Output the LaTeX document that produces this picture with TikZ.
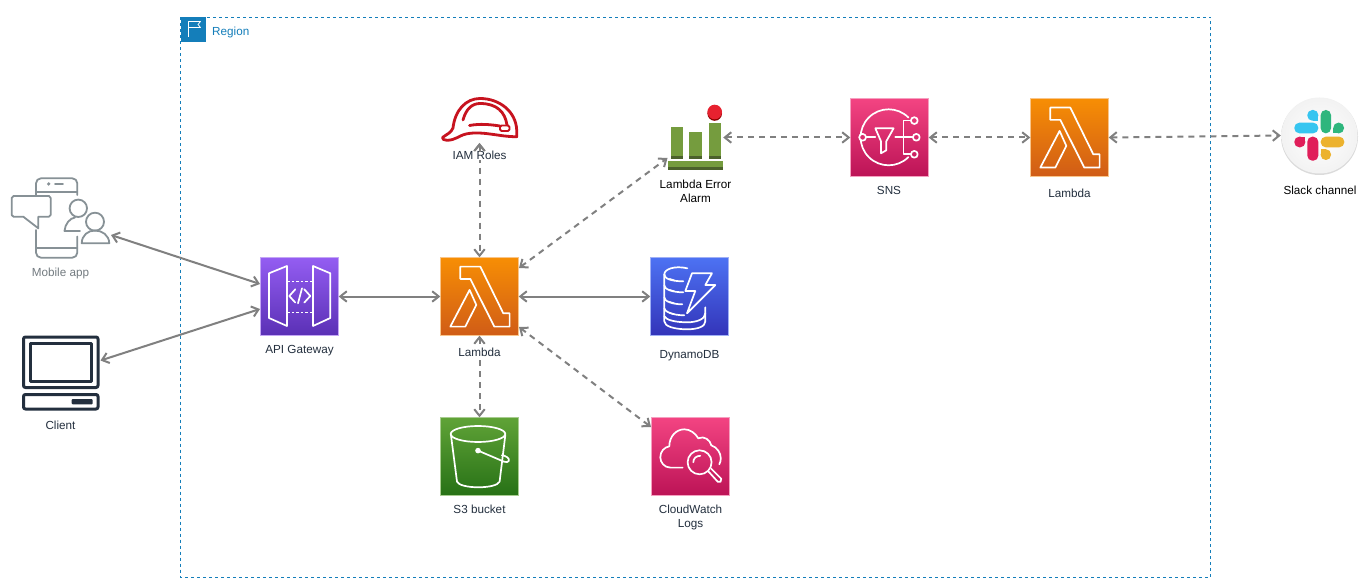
\documentclass[tikz,border=0pt]{standalone}
\usepackage{fontspec}
\setmainfont{Liberation Sans}
\usetikzlibrary{arrows.meta,calc}
\definecolor{inkdark}{HTML}{232F3E}
\definecolor{regionblue}{HTML}{147EBA}
\definecolor{wiregray}{HTML}{808080}
\definecolor{mobilegray}{HTML}{879196}
\definecolor{hatred}{HTML}{C7131F}
\definecolor{barlight}{HTML}{759C3E}
\definecolor{bardark}{HTML}{4B612C}
\definecolor{pinkmid}{HTML}{D92B6C}
\definecolor{alarmred}{HTML}{E7212F}
\definecolor{edgeorange}{HTML}{F9C58A}
\definecolor{edgepurple}{HTML}{C4A6F5}
\definecolor{edgeblue}{HTML}{A0B0F5}
\definecolor{edgegreen}{HTML}{A8CC90}
\definecolor{edgepink}{HTML}{F5A0C0}
\tikzset{
  x=1pt,y=-1pt,
  awsbox/.style={rectangle,inner sep=0pt,minimum size=78pt},
  orangebox/.style={awsbox,top color={rgb,255:red,247;green,142;blue,4},bottom color={rgb,255:red,208;green,92;blue,23}},
  purplebox/.style={awsbox,top color={rgb,255:red,148;green,93;blue,242},bottom color={rgb,255:red,90;green,48;blue,181}},
  bluebox/.style={awsbox,top color={rgb,255:red,77;green,114;blue,243},bottom color={rgb,255:red,51;green,52;blue,185}},
  greenbox/.style={awsbox,top color={rgb,255:red,96;green,163;blue,55},bottom color={rgb,255:red,39;green,113;blue,22}},
  pinkbox/.style={awsbox,top color={rgb,255:red,243;green,68;blue,130},bottom color={rgb,255:red,188;green,19;blue,86}},
  ghost/.style={rectangle,inner sep=0pt},
  glyph/.style={draw=white,line width=1.7pt,line join=round,line cap=round},
  lbl/.style={font=\fontsize{11.7}{14}\selectfont,text=inkdark,align=center,inner sep=0.5pt},
  lblfill/.style={lbl,fill=white},
  wire/.style={draw=wiregray,line width=2pt,{Straight Barb[length=6.5pt,width=10.5pt]}-{Straight Barb[length=6.5pt,width=10.5pt]}},
  dashwire/.style={wire,dash pattern=on 6pt off 5pt},
  lambdaglyph/.pic={
    \draw[glyph] (20,9.3) -- (40,9.3) -- (63,56) -- (69.3,56) -- (69.3,69.3) -- (54,69.3) -- (30,21.6) -- (20,21.6) -- cycle;
    \draw[glyph] (10,69.3) -- (29.3,32.6) -- (36,47.6) -- (25,69.3) -- cycle;
  },
  apiglyph/.pic={
    \draw[glyph] (8.7,16) -- (26.7,8.7) -- (26.7,68.7) -- (8.7,60.7) -- cycle;
    \draw[glyph] (52.7,8.7) -- (70,16) -- (70,60.7) -- (52.7,68.7) -- cycle;
    \draw[white,line width=1.6pt,dash pattern=on 2.5pt off 2pt] (27,24.3) -- (52.7,24.3);
    \draw[white,line width=1.6pt,dash pattern=on 2.5pt off 2pt] (27,55.3) -- (52.7,55.3);
    \draw[glyph] (35,32) -- (29,38.7) -- (35,45.3);
    \draw[glyph] (44,32) -- (50,38.7) -- (44,45.3);
    \draw[glyph] (41.7,31) -- (37.7,46);
  },
  dynamoglyph/.pic={
    \draw[glyph] (37,11) .. controls (24,8) and (14,12) .. (14,17) .. controls (14,21) and (20,24) .. (33,24);
    \draw[glyph] (14,17) -- (14,28) .. controls (14,32) and (22,35) .. (33,35);
    \draw[glyph] (14,28) -- (14,40) .. controls (14,44) and (22,47) .. (32,47);
    \draw[glyph] (14,40) -- (14,51) .. controls (14,54) and (22,58) .. (34,58);
    \draw[glyph] (14,51) -- (14,64) .. controls (14,69) and (24,72) .. (37,72) .. controls (48,72) and (55,69) .. (55,64) -- (55,50);
    \draw[glyph] (14,59) .. controls (16,63) and (26,65) .. (37,65) .. controls (46,65) and (55,62) .. (55,56);
    \draw[white,line width=1.5pt] (19,21.5) -- (24,23) (19,32.5) -- (24,34) (19,44.5) -- (24,46) (19,55.5) -- (24,57);
    \draw[glyph] (41.7,16) -- (61.7,16) -- (55,27.7) -- (65,27.7) -- (36.7,56) -- (45,33.7) -- (35,33.7) -- cycle;
  },
  bucketglyph/.pic={
    \draw[glyph] (37.7,16.7) ellipse[x radius=27.3,y radius=8];
    \draw[glyph] (10.7,18) -- (16.7,64.3) .. controls (18,68) and (28,70) .. (38,70) .. controls (48,70) and (58,68) .. (59.3,64.3) -- (65,18);
    \fill[white] (37.7,33.3) circle[radius=2.8];
    \draw[glyph] (37.7,33.3) -- (64,44.5) .. controls (69,46) and (70,42) .. (67,40) .. controls (65,38.5) and (63,38) .. (61.5,38);
  },
  cloudglyph/.pic={
    \draw[glyph] (31.3,50.3) -- (19,50.3) .. controls (13,50.3) and (9,45) .. (9,40) .. controls (9,34) and (13,30) .. (18,29) .. controls (18,19) and (25,12) .. (33,12) .. controls (39,12) and (44,16) .. (47,21) .. controls (53,18) and (59,23) .. (60,28) .. controls (66,30) and (69.5,36) .. (69.5,41) .. controls (69.5,43) and (69,45) .. (68,47);
    \draw[glyph] (48.3,45) circle[radius=12];
    \draw[glyph] (42,45) .. controls (42,41) and (45,38.5) .. (49,38.5);
    \draw[glyph] (57,54) -- (66.5,64.5) .. controls (68,66) and (71,64) .. (70,61.5) -- (60,51.5);
  },
  snsglyph/.pic={
    \draw[glyph] (38.3,39) ++(45:28) arc[start angle=45,end angle=315,radius=28];
    \draw[glyph] (15.8,39) -- (25,39);
    \draw[glyph,fill=pinkmid] (12.3,39) circle[radius=3.4];
    \draw[glyph] (25,30) -- (43.3,30) -- (36,43) -- (36,52) -- (30.7,55) -- (30.7,43) -- cycle;
    \draw[glyph] (45,39) -- (62.5,39);
    \draw[glyph] (60.5,22.3) -- (53.3,22.3) -- (53.3,56) -- (60.5,56);
    \draw[glyph] (64,22.3) circle[radius=3.4];
    \draw[glyph] (66,39) circle[radius=3.4];
    \draw[glyph] (64,56) circle[radius=3.4];
  }
}
\begin{document}
\begin{tikzpicture}
\useasboundingbox (0,0) rectangle (1371,588);
\fill[white] (0,0) rectangle (1371,588);

% region
\draw[regionblue,line width=1pt,dash pattern=on 3pt off 3pt] (180.5,17.5) rectangle (1210.5,577);
\node[ghost,fill=regionblue,minimum width=25pt,minimum height=25pt] (regionflag) at (193,29.5) {};
\draw[white,line width=0.8pt,line join=round] (188.5,37) -- (188.5,21.5) -- (200.5,21.5) -- (198,24.5) -- (200.5,27.5) -- (188.5,27.5);
\node[lbl,text=regionblue,anchor=base west] (regionlabel) at (211.5,35.5) {Region};

% nodes
\node[purplebox] (api) at (299.5,296.5) {};
\node[orangebox] (lam) at (479.5,296.5) {};
\node[bluebox] (dyn) at (689.5,296.5) {};
\node[greenbox] (sss) at (479.5,456.5) {};
\node[pinkbox] (cw) at (690.5,456.5) {};
\node[pinkbox] (sns) at (889.5,137.5) {};
\node[orangebox] (lamb) at (1069.5,137.5) {};
\foreach \n/\c in {api/edgepurple,lam/edgeorange,dyn/edgeblue,sss/edgegreen,cw/edgepink,sns/edgepink,lamb/edgeorange}
  \draw[\c,line width=0.9pt] (\n.north west) rectangle (\n.south east);
\node[ghost,minimum width=76pt,minimum height=44pt] (iam) at (479.5,121) {};
\node[ghost,minimum width=55pt,minimum height=66pt] (alarm) at (695.5,137.5) {};
\node[ghost,circle,minimum size=77pt] (slack) at (1319.5,135.5) {};
\node[ghost,minimum width=98pt,minimum height=80pt] (mobile) at (60.5,218) {};
\node[ghost,minimum width=77pt,minimum height=75pt] (client) at (60.5,373) {};

\coordinate (mobileport) at (111,235);
\coordinate (clientport) at (100.5,360.5);
\coordinate (apia) at (260,284);
\coordinate (apib) at (260,309);
\coordinate (lamne) at (519,268);
\coordinate (lamse) at (519,327);
\coordinate (alarmport) at (667.5,158);
\coordinate (cwport) at (651,427);
\coordinate (iamport) at (479.5,143);

% connectors
\draw[wire] (mobileport) -- (apia);
\draw[wire] (clientport) -- (apib);
\draw[wire] (api.east) -- (lam.west);
\draw[wire] (lam.east) -- (dyn.west);
\draw[dashwire] (iamport) -- (lam.north);
\draw[dashwire] (lamne) -- (alarmport);
\draw[dashwire] (lam.south) -- (sss.north);
\draw[dashwire] (lamse) -- (cwport);
\draw[dashwire] (alarm.east) -- (sns.west);
\draw[dashwire] (sns.east) -- (lamb.west);
\draw[dashwire] (lamb.east) -- (slack.west);

% glyphs
\pic at (api.north west) {apiglyph};
\pic at (lam.north west) {lambdaglyph};
\pic at (dyn.north west) {dynamoglyph};
\pic at (sss.north west) {bucketglyph};
\pic at (cw.north west) {cloudglyph};
\pic at (sns.north west) {snsglyph};
\pic at (lamb.north west) {lambdaglyph};

% IAM hat
\begin{scope}[draw=hatred,line width=2.8pt,line join=round,line cap=round]
\draw (442.5,137.5) .. controls (447,134) and (451,133) .. (453,128) .. controls (455,110) and (466,98.5) .. (480,98.5) .. controls (500,98.5) and (516,112) .. (516.7,130) -- (516.7,136.7) .. controls (500,137) and (482,130.5) .. (466,134) .. controls (458,136) and (456,140) .. (447,140.3) .. controls (444,140.3) and (442,139) .. (442.5,137.5) -- cycle;
\draw (463,120) .. controls (466,109) and (472,103.5) .. (480,103.5) .. controls (497,103.5) and (505,112) .. (507,125);
\draw (469.5,125.5) .. controls (480,123.5) and (490,124.5) .. (500,126);
\draw[line width=1.8pt,rounded corners=1.5pt] (500,125.5) rectangle (509.5,131);
\end{scope}

% alarm
\fill[barlight] (670.7,126.7) rectangle (682.7,159);
\fill[barlight] (689.3,132.3) rectangle (701.7,159);
\fill[barlight] (708.7,122.7) rectangle (720.7,159);
\fill[bardark] (670.7,155.7) rectangle (682.7,159);
\fill[bardark] (689.3,155.7) rectangle (701.7,159);
\fill[bardark] (708.7,155.7) rectangle (720.7,159);
\fill[barlight] (668.3,161) rectangle (722.7,170.3);
\fill[bardark] (668.3,166.7) rectangle (722.7,170.3);
\fill[red!55!black] (714.7,113.5) circle[radius=7.3];
\fill[alarmred] (714.7,112) circle[radius=7.3];

% mobile
\begin{scope}[draw=mobilegray,line width=1.8pt,line cap=round,line join=round]
\draw[rounded corners=5pt] (36,195) -- (36,178.3) -- (77.3,178.3) -- (77.3,195);
\draw (36,192.3) -- (77.3,192.3);
\fill[mobilegray] (48.7,184) circle[radius=1.8];
\draw (55,184) -- (63,184);
\draw[rounded corners=5pt] (36,230) -- (36,257.7) -- (77.3,257.7) -- (77.3,236.5);
\draw (36,248.3) -- (77.3,248.3);
\draw (38.3,228.3) -- (38.3,216.7) -- (49,216.7) -- (50.7,215) -- (50.7,198) -- (49,196) -- (13.5,196) -- (11.7,198) -- (11.7,215) -- (13.5,216.7) -- (23.3,216.7) -- cycle;
\draw (78.3,208.3) circle[radius=8.7];
\draw (80,231) -- (64.5,231) .. controls (65,224) and (70,218) .. (75,217.5);
\draw (95,221.7) circle[radius=9];
\draw (81.7,243.3) .. controls (82,235) and (88,230.5) .. (95,230.5) .. controls (102,230.5) and (109,235) .. (109.3,243.3) -- cycle;
\end{scope}

% client
\begin{scope}[draw=inkdark,line width=3pt,line join=round]
\draw[rounded corners=2pt] (23.5,337) rectangle (98,387.5);
\draw (30,343.5) rectangle (91,381);
\draw[rounded corners=2pt] (23.5,394.5) rectangle (98,409);
\fill[inkdark,rounded corners=1pt] (71.7,399) rectangle (92.7,404.3);
\end{scope}

% slack
\definecolor{slackblue}{RGB}{54,197,240}
\definecolor{slackgreen}{RGB}{46,182,125}
\definecolor{slackred}{RGB}{224,30,90}
\definecolor{slackyellow}{RGB}{236,178,46}
\fill[black!14] (1319.5,136.5) circle[radius=38.5];
\shade[inner color=white,outer color=black!5] (1319.5,135.5) circle[radius=38];
\fill[rounded corners=5pt,slackblue] (1294.3,122.7) rectangle (1318.3,133.3);
\fill[rounded corners=5pt,slackblue] (1307.3,110) rectangle (1318.3,120.7);
\fill[slackblue] (1313,115.5) rectangle (1318.3,120.7);
\fill[rounded corners=5pt,slackgreen] (1320.7,110) rectangle (1331,133.3);
\fill[rounded corners=5pt,slackgreen] (1333.3,122.7) rectangle (1344,133.3);
\fill[slackgreen] (1333.3,128) rectangle (1338.5,133.3);
\fill[rounded corners=5pt,slackred] (1307.3,136.7) rectangle (1318.3,160.7);
\fill[rounded corners=5pt,slackred] (1294.3,136.7) rectangle (1305.3,147.3);
\fill[slackred] (1300,136.7) rectangle (1305.3,142);
\fill[rounded corners=5pt,slackyellow] (1320.7,136.7) rectangle (1344.3,147.3);
\fill[rounded corners=5pt,slackyellow] (1320.7,149.3) rectangle (1331,160);
\fill[slackyellow] (1320.7,149.3) rectangle (1326,154.5);

% labels
\node[lbl,text=mobilegray!85!black] (lblmobile) at (60.5,273) {Mobile app};
\node[lbl] (lblclient) at (60.5,425) {Client};
\node[lbl] (lblapi) at (299.5,350.5) {API Gateway};
\node[lblfill] (lbliam) at (479.5,155.5) {IAM Roles};
\draw[wiregray,line width=2pt,-{Straight Barb[length=6.5pt,width=10.5pt]}] (479.5,152) -- (iamport);
\node[lbl,text=black] (lblalarm) at (695.5,191) {Lambda Error\\Alarm};
\node[lblfill] (lbllam) at (479.5,352) {Lambda};
\node[lbl] (lbldyn) at (689.5,355.5) {DynamoDB};
\node[lbl] (lblsss) at (479.5,509) {S3 bucket};
\node[lbl] (lblcw) at (690.5,517) {CloudWatch\\Logs};
\node[lbl] (lblsns) at (889,190) {SNS};
\node[lbl] (lbllamb) at (1069.5,193) {Lambda};
\node[lbl,text=black] (lblslack) at (1320,190) {Slack channel};
\end{tikzpicture}
\end{document}
